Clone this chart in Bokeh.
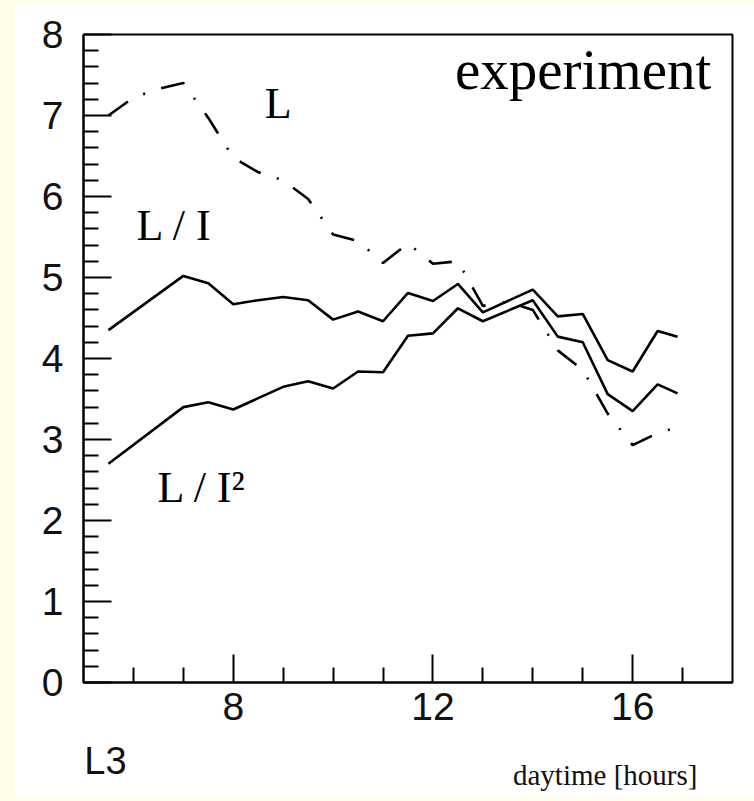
from bokeh.plotting import figure
from bokeh.models import Label, FixedTicker, Range1d, LinearAxis
from bokeh.layouts import column
from bokeh.embed import file_html
from bokeh.resources import INLINE

# ---- data ----
hours_solid = [5.5, 7.0, 7.5, 8.0, 8.5, 9.0, 9.5, 10.0, 10.5, 11.0, 11.5,
               12.0, 12.5, 13.0, 14.0, 14.5, 15.0, 15.5, 16.0, 16.5, 16.9]
l_over_i = [4.35, 5.02, 4.93, 4.67, 4.72, 4.76, 4.72, 4.48, 4.58, 4.46, 4.81,
            4.71, 4.92, 4.57, 4.85, 4.52, 4.55, 3.98, 3.84, 4.34, 4.27]
l_over_i2 = [2.70, 3.40, 3.46, 3.37, 3.51, 3.65, 3.72, 3.63, 3.84, 3.83, 4.28,
             4.31, 4.62, 4.46, 4.72, 4.27, 4.20, 3.56, 3.35, 3.68, 3.57]

hours_l = [5.5, 6.0, 6.5, 7.0, 7.5, 8.0, 8.5, 9.0, 9.5, 10.0, 10.5, 11.0, 11.5,
           12.0, 12.5, 13.0, 13.5, 14.0, 14.5, 15.0, 15.5, 16.0, 16.5, 16.9]
l_values = [7.00, 7.22, 7.33, 7.40, 6.97, 6.48, 6.30, 6.20, 5.97, 5.53, 5.45, 5.18, 5.42,
            5.17, 5.20, 4.65, 4.70, 4.60, 4.10, 3.86, 3.32, 2.93, 3.08, 3.15]

x_major_ticks = [8, 12, 16]
x_minor_ticks = [6, 7, 9, 10, 11, 13, 14, 15, 17]
y_major_ticks = [0, 1, 2, 3, 4, 5, 6, 7, 8]
y_minor_ticks = [i / 5 for i in range(0, 41) if i % 5 != 0]

panel_tag = "L3"
x_axis_title = "daytime [hours]"

SERIF = "Liberation Serif"
SANS = "Liberation Sans"

p = figure(width=740, height=794,
           x_range=Range1d(5, 18), y_range=Range1d(0, 8),
           output_backend="svg", toolbar_location=None,
           min_border_left=69, min_border_right=22,
           min_border_top=31, min_border_bottom=115,
           margin=(3, 0, 4, 14))

p.background_fill_color = "white"
p.border_fill_color = "white"
p.outline_line_color = "black"
p.outline_line_width = 2
p.xgrid.visible = False
p.ygrid.visible = False

p.xaxis.ticker = FixedTicker(ticks=x_major_ticks, minor_ticks=x_minor_ticks)
p.yaxis.ticker = FixedTicker(ticks=y_major_ticks, minor_ticks=y_minor_ticks)
for ax in (p.xaxis, p.yaxis):
    ax.axis_line_width = 2
    ax.axis_line_color = "black"
    ax.major_tick_in = 28
    ax.major_tick_out = 0
    ax.minor_tick_in = 15
    ax.minor_tick_out = 0
    ax.major_tick_line_width = 2
    ax.minor_tick_line_width = 2
    ax.major_tick_line_color = "black"
    ax.minor_tick_line_color = "black"
    ax.major_label_text_font = SANS
    ax.major_label_text_font_size = "39px"
    ax.major_label_text_color = "#111111"
p.xaxis.major_label_standoff = 10
p.yaxis.major_label_standoff = 20


def text_axis(x, text, font, size, standoff):
    ax = LinearAxis(ticker=FixedTicker(ticks=[x], minor_ticks=[]),
                    major_label_overrides={x: text})
    ax.axis_line_color = None
    ax.major_tick_line_color = None
    ax.minor_tick_line_color = None
    ax.major_tick_in = 0
    ax.major_tick_out = 0
    ax.minor_tick_in = 0
    ax.minor_tick_out = 0
    ax.major_label_text_font = font
    ax.major_label_text_font_size = size
    ax.major_label_text_color = "#111111"
    ax.major_label_standoff = standoff
    p.add_layout(ax, "below")


text_axis(5.44, panel_tag, SANS, "38px", 17)
text_axis(15.45, x_axis_title, SERIF, "29px", -26)

p.line(hours_solid, l_over_i, line_color="black", line_width=2.6)
p.line(hours_solid, l_over_i2, line_color="black", line_width=2.6)
p.line(hours_l, l_values, line_color="black", line_width=2.6,
       line_dash="24 17 2 17")


def lab(text, x, y, font, size):
    p.add_layout(Label(x=x, y=y, text=text, text_font=font,
                       text_font_size=size, text_color="black",
                       text_align="left", text_baseline="alphabetic"))


lab("L", 8.63, 7.15, SERIF, "44px")
lab("L / I", 6.06, 5.64, SERIF, "44px")
lab("L / I\u00b2", 6.48, 2.41, SERIF, "44px")
lab("experiment", 12.44, 7.57, SERIF, "57px")

layout = column(p, styles={"background-color": "#FFFDE8"})

open("out.html", "w").write(file_html(layout, INLINE))
